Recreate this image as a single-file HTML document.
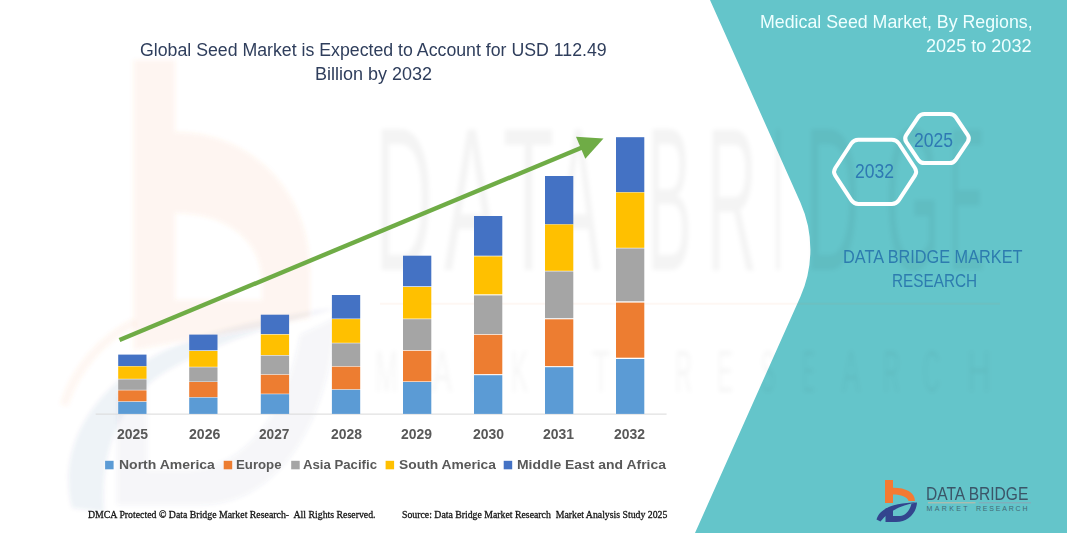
<!DOCTYPE html>
<html><head><meta charset="utf-8">
<style>
html,body{margin:0;padding:0;}
body{width:1067px;height:533px;overflow:hidden;background:#fff;position:relative;font-family:"Liberation Sans",sans-serif;}
.t{position:absolute;white-space:pre;line-height:1;transform-origin:0 0;}
svg{position:absolute;left:0;top:0;}
</style></head><body>
<svg width="1067" height="533" viewBox="0 0 1067 533">
  <defs><filter id="blur" x="-10%" y="-10%" width="120%" height="120%"><feGaussianBlur stdDeviation="2"/></filter></defs>
  <!-- big b watermark -->
  <g filter="url(#blur)">
  <path fill-rule="evenodd" fill="#F47A32" fill-opacity="0.075" d="M133.5,60 L175,60 L175,132 C250,132 310,190 310,272 L310,318 L133.5,350 Z M175,213 C228,213 262,242 262,282 L262,300 L175,300 Z"/>
  <path fill="none" stroke="#F47A32" stroke-opacity="0.07" stroke-width="8" d="M64,405 C75,370 100,340 135,322"/>
  <path fill="#33458E" fill-opacity="0.065" d="M72,508 C56,445 95,375 190,340 C240,322 300,312 338,308 C290,320 215,342 165,372 C120,400 100,450 104,512 Z"/>
  <path fill="#33458E" fill-opacity="0.05" d="M117,395 L147,380 L147,470 L190,470 C240,468 285,420 300,335 L335,318 C330,420 280,505 200,505 L117,505 Z"/>
  </g>
  <path d="M710,0 L800.4,202.6 A116,116 0 0 1 800.4,296.8 L695,533 L1067,533 L1067,0 Z" fill="#64C5CA"/>
  <g font-family="Liberation Sans" fill="#000" fill-opacity="0.045" filter="url(#blur)">
  <text x="375" y="270.4" font-size="205" textLength="58" lengthAdjust="spacingAndGlyphs">D</text>
<text x="444" y="270.4" font-size="205" textLength="55" lengthAdjust="spacingAndGlyphs">A</text>
<text x="503" y="270.4" font-size="205" textLength="51" lengthAdjust="spacingAndGlyphs">T</text>
<text x="556" y="270.4" font-size="205" textLength="44" lengthAdjust="spacingAndGlyphs">A</text>
<text x="647" y="270.4" font-size="205" textLength="45" lengthAdjust="spacingAndGlyphs">B</text>
<text x="707" y="270.4" font-size="205" textLength="50" lengthAdjust="spacingAndGlyphs">R</text>
<text x="772" y="270.4" font-size="205" textLength="12" lengthAdjust="spacingAndGlyphs">I</text>
<text x="805" y="270.4" font-size="205" textLength="55" lengthAdjust="spacingAndGlyphs">D</text>
<text x="885" y="270.4" font-size="205" textLength="55" lengthAdjust="spacingAndGlyphs">G</text>
<text x="948" y="270.4" font-size="205" textLength="37" lengthAdjust="spacingAndGlyphs">E</text>
  </g>
  <g font-family="Liberation Sans" fill="#000" fill-opacity="0.035" filter="url(#blur)">
  <text x="375" y="392.4" font-size="60" textLength="23" lengthAdjust="spacingAndGlyphs">M</text>
<text x="432" y="392.4" font-size="60" textLength="20" lengthAdjust="spacingAndGlyphs">A</text>
<text x="471" y="392.4" font-size="60" textLength="17" lengthAdjust="spacingAndGlyphs">R</text>
<text x="511" y="392.4" font-size="60" textLength="17" lengthAdjust="spacingAndGlyphs">K</text>
<text x="552" y="392.4" font-size="60" textLength="14" lengthAdjust="spacingAndGlyphs">E</text>
<text x="592" y="392.4" font-size="60" textLength="18" lengthAdjust="spacingAndGlyphs">T</text>
<text x="675" y="392.4" font-size="60" textLength="17" lengthAdjust="spacingAndGlyphs">R</text>
<text x="717" y="392.4" font-size="60" textLength="16" lengthAdjust="spacingAndGlyphs">E</text>
<text x="761" y="392.4" font-size="60" textLength="14" lengthAdjust="spacingAndGlyphs">S</text>
<text x="802" y="392.4" font-size="60" textLength="13" lengthAdjust="spacingAndGlyphs">E</text>
<text x="842" y="392.4" font-size="60" textLength="18" lengthAdjust="spacingAndGlyphs">A</text>
<text x="883" y="392.4" font-size="60" textLength="17" lengthAdjust="spacingAndGlyphs">R</text>
<text x="923" y="392.4" font-size="60" textLength="17" lengthAdjust="spacingAndGlyphs">C</text>
<text x="967" y="392.4" font-size="60" textLength="24" lengthAdjust="spacingAndGlyphs">H</text>
  </g>
  <line x1="380" y1="303.7" x2="1000" y2="303.7" stroke="#F47A32" stroke-opacity="0.06" stroke-width="2"/>
  <line x1="95.7" y1="414.1" x2="666.6" y2="414.1" stroke="#d9d9d9" stroke-width="1"/>
  <rect x="118.2" y="354.6" width="28.3" height="11.5" fill="#4472C4"/>
<rect x="118.2" y="366.4" width="28.3" height="12.4" fill="#FFC000"/>
<rect x="118.2" y="379.4" width="28.3" height="10.4" fill="#A5A5A5"/>
<rect x="118.2" y="390.4" width="28.3" height="10.9" fill="#ED7D31"/>
<rect x="118.2" y="401.9" width="28.3" height="12.0" fill="#5B9BD5"/>
<rect x="189.2" y="334.6" width="28.3" height="15.7" fill="#4472C4"/>
<rect x="189.2" y="351.0" width="28.3" height="15.8" fill="#FFC000"/>
<rect x="189.2" y="367.3" width="28.3" height="14.3" fill="#A5A5A5"/>
<rect x="189.2" y="382.0" width="28.3" height="15.2" fill="#ED7D31"/>
<rect x="189.2" y="397.6" width="28.3" height="16.3" fill="#5B9BD5"/>
<rect x="260.8" y="314.7" width="28.3" height="19.4" fill="#4472C4"/>
<rect x="260.8" y="334.6" width="28.3" height="20.5" fill="#FFC000"/>
<rect x="260.8" y="355.6" width="28.3" height="18.7" fill="#A5A5A5"/>
<rect x="260.8" y="374.8" width="28.3" height="18.9" fill="#ED7D31"/>
<rect x="260.8" y="394.2" width="28.3" height="19.7" fill="#5B9BD5"/>
<rect x="331.9" y="295.0" width="28.3" height="23.6" fill="#4472C4"/>
<rect x="331.9" y="319.1" width="28.3" height="23.7" fill="#FFC000"/>
<rect x="331.9" y="343.3" width="28.3" height="22.9" fill="#A5A5A5"/>
<rect x="331.9" y="366.7" width="28.3" height="22.6" fill="#ED7D31"/>
<rect x="331.9" y="389.8" width="28.3" height="24.1" fill="#5B9BD5"/>
<rect x="403.0" y="255.7" width="28.3" height="30.6" fill="#4472C4"/>
<rect x="403.0" y="287.0" width="28.3" height="31.6" fill="#FFC000"/>
<rect x="403.0" y="319.2" width="28.3" height="30.9" fill="#A5A5A5"/>
<rect x="403.0" y="350.8" width="28.3" height="30.6" fill="#ED7D31"/>
<rect x="403.0" y="382.0" width="28.3" height="31.9" fill="#5B9BD5"/>
<rect x="474.0" y="216.0" width="28.3" height="39.7" fill="#4472C4"/>
<rect x="474.0" y="256.4" width="28.3" height="37.9" fill="#FFC000"/>
<rect x="474.0" y="295.4" width="28.3" height="38.7" fill="#A5A5A5"/>
<rect x="474.0" y="334.8" width="28.3" height="39.3" fill="#ED7D31"/>
<rect x="474.0" y="375.2" width="28.3" height="38.7" fill="#5B9BD5"/>
<rect x="545.0" y="176.0" width="28.3" height="48.3" fill="#4472C4"/>
<rect x="545.0" y="224.5" width="28.3" height="46.3" fill="#FFC000"/>
<rect x="545.0" y="271.4" width="28.3" height="46.8" fill="#A5A5A5"/>
<rect x="545.0" y="319.3" width="28.3" height="46.8" fill="#ED7D31"/>
<rect x="545.0" y="367.2" width="28.3" height="46.7" fill="#5B9BD5"/>
<rect x="616.0" y="137.2" width="28.3" height="55.0" fill="#4472C4"/>
<rect x="616.0" y="192.5" width="28.3" height="55.3" fill="#FFC000"/>
<rect x="616.0" y="248.4" width="28.3" height="52.9" fill="#A5A5A5"/>
<rect x="616.0" y="302.6" width="28.3" height="55.1" fill="#ED7D31"/>
<rect x="616.0" y="359.0" width="28.3" height="54.9" fill="#5B9BD5"/>
<rect x="105.1" y="460.8" width="8.5" height="8.5" fill="#5B9BD5"/>
<rect x="223.7" y="460.8" width="8.5" height="8.5" fill="#ED7D31"/>
<rect x="291.2" y="460.8" width="8.5" height="8.5" fill="#A5A5A5"/>
<rect x="385.6" y="460.8" width="8.5" height="8.5" fill="#FFC000"/>
<rect x="503.7" y="460.8" width="8.5" height="8.5" fill="#4472C4"/>
  <line x1="119.5" y1="340" x2="582" y2="147.5" stroke="#6FAC46" stroke-width="4.4"/>
  <polygon points="603.5,138.5 576,136.8 585.3,158.8" fill="#6FAC46"/>
  <path d="M835.3,175.6 Q832.8,171.8 835.3,168.0 L851.3,143.5 Q853.8,139.7 858.3,139.7 L891.9,139.7 Q896.4,139.7 898.9,143.5 L914.9,168.0 Q917.4,171.8 914.9,175.6 L898.9,200.1 Q896.4,203.9 891.9,203.9 L858.3,203.9 Q853.8,203.9 851.3,200.1 Z" fill="none" stroke="#fff" stroke-width="4"/>
  <path d="M906.2,141.8 Q904.0,138.5 906.2,135.2 L918.3,117.2 Q920.5,113.9 924.5,113.9 L949.5,113.9 Q953.5,113.9 955.7,117.2 L967.8,135.2 Q970.0,138.5 967.8,141.8 L955.7,159.8 Q953.5,163.1 949.5,163.1 L924.5,163.1 Q920.5,163.1 918.3,159.8 Z" fill="none" stroke="#fff" stroke-width="4"/>
  <!-- logo -->
  <g>
    <rect x="885" y="480" width="8" height="23" fill="#F47A32"/>
    <path d="M893,487.7 C905,487.5 915,492 915,501 L908.5,501 C907.5,497 901,494.5 893,494.5 Z" fill="#F47A32"/>
    <path d="M876.5,519.5 C880,507 897,503 917,502.3 C900,505.5 889,511 880.5,521.5 Z" fill="#33458E"/>
    <path d="M885.5,508.5 L893,506.5 L893,516 L900,516 C906,515.5 910,510 911.5,503.5 L917,502.5 C916.5,513 908,522 896,522 L885.5,522 Z" fill="#33458E"/>
    <line x1="928" y1="502.8" x2="975.5" y2="502.8" stroke="#c9b9a6" stroke-width="1"/>
    <line x1="978.7" y1="502.8" x2="1031" y2="502.8" stroke="#8aa6b6" stroke-width="1"/>
    <text x="926.5" y="511.3" font-family="Liberation Sans" font-size="7" fill="#426A76" textLength="41" lengthAdjust="spacing">MARKET</text>
    <text x="976" y="511.3" font-family="Liberation Sans" font-size="7" fill="#426A76" textLength="51.5" lengthAdjust="spacing">RESEARCH</text>
  </g>
</svg>

<div class="t" id="title1" style="left:140.06px;top:40.84px;font-family:'Liberation Sans';font-size:18.75px;font-weight:400;color:#2F3E5C;transform:scaleX(0.9453);">Global Seed Market is Expected to Account for USD 112.49</div>
<div class="t" id="title2" style="left:314.64px;top:64.66px;font-family:'Liberation Sans';font-size:18.90px;font-weight:400;color:#2F3E5C;transform:scaleX(0.9530);">Billion by 2032</div>
<div class="t" id="rt1" style="left:759.76px;top:12.56px;font-family:'Liberation Sans';font-size:18.17px;font-weight:400;color:#EFFFFF;transform:scaleX(0.9788);">Medical Seed Market, By Regions,</div>
<div class="t" id="rt2" style="left:926.20px;top:36.78px;font-family:'Liberation Sans';font-size:18.17px;font-weight:400;color:#EFFFFF;transform:scaleX(0.9952);">2025 to 2032</div>
<div class="t" id="hx1" style="left:855.08px;top:162.43px;font-family:'Liberation Sans';font-size:19.62px;font-weight:400;color:#2E79B3;transform:scaleX(0.8948);">2032</div>
<div class="t" id="hx2" style="left:914.02px;top:130.85px;font-family:'Liberation Sans';font-size:19.33px;font-weight:400;color:#2E79B3;transform:scaleX(0.9082);">2025</div>
<div class="t" id="db1" style="left:842.52px;top:248.03px;font-family:'Liberation Sans';font-size:18.60px;font-weight:400;color:#2D7CAF;transform:scaleX(0.8757);">DATA BRIDGE MARKET</div>
<div class="t" id="db2" style="left:891.70px;top:272.07px;font-family:'Liberation Sans';font-size:18.60px;font-weight:400;color:#2D7CAF;transform:scaleX(0.8241);">RESEARCH</div>
<div class="t" id="ft1" style="left:88.06px;top:509.02px;font-family:'Liberation Serif';font-size:10.69px;font-weight:400;color:#141414;transform:scaleX(0.9188);-webkit-text-stroke:0.3px #141414;">DMCA Protected © Data Bridge Market Research-  All Rights Reserved.</div>
<div class="t" id="ft2" style="left:402.38px;top:509.03px;font-family:'Liberation Serif';font-size:10.69px;font-weight:400;color:#141414;transform:scaleX(0.9151);-webkit-text-stroke:0.3px #141414;">Source: Data Bridge Market Research  Market Analysis Study 2025</div>
<div class="t" id="lg1" style="left:925.70px;top:484.65px;font-family:'Liberation Sans';font-size:18.31px;font-weight:400;color:#3B5568;transform:scaleX(0.8507);">DATA BRIDGE</div>
<div class="t" id="yr0" style="left:116.56px;top:426.98px;font-family:'Liberation Sans';font-size:14.24px;font-weight:700;color:#595959;transform:scaleX(0.9806);">2025</div>
<div class="t" id="yr1" style="left:188.62px;top:426.98px;font-family:'Liberation Sans';font-size:14.24px;font-weight:700;color:#595959;transform:scaleX(0.9910);">2026</div>
<div class="t" id="yr2" style="left:259.38px;top:426.98px;font-family:'Liberation Sans';font-size:14.24px;font-weight:700;color:#595959;transform:scaleX(0.9615);">2027</div>
<div class="t" id="yr3" style="left:330.50px;top:426.98px;font-family:'Liberation Sans';font-size:14.24px;font-weight:700;color:#595959;transform:scaleX(0.9783);">2028</div>
<div class="t" id="yr4" style="left:401.00px;top:426.98px;font-family:'Liberation Sans';font-size:14.24px;font-weight:700;color:#595959;transform:scaleX(0.9783);">2029</div>
<div class="t" id="yr5" style="left:473.12px;top:426.98px;font-family:'Liberation Sans';font-size:14.24px;font-weight:700;color:#595959;transform:scaleX(0.9806);">2030</div>
<div class="t" id="yr6" style="left:543.44px;top:426.98px;font-family:'Liberation Sans';font-size:14.24px;font-weight:700;color:#595959;transform:scaleX(0.9806);">2031</div>
<div class="t" id="yr7" style="left:614.38px;top:426.98px;font-family:'Liberation Sans';font-size:14.24px;font-weight:700;color:#595959;transform:scaleX(0.9783);">2032</div>
<div class="t" id="lt0" style="left:119.06px;top:457.75px;font-family:'Liberation Sans';font-size:13.52px;font-weight:700;color:#595959;transform:scaleX(1.0350);">North America</div>
<div class="t" id="lt1" style="left:236.12px;top:457.54px;font-family:'Liberation Sans';font-size:13.52px;font-weight:700;color:#595959;transform:scaleX(0.9776);">Europe</div>
<div class="t" id="lt2" style="left:303.00px;top:457.75px;font-family:'Liberation Sans';font-size:13.52px;font-weight:700;color:#595959;transform:scaleX(0.9751);">Asia Pacific</div>
<div class="t" id="lt3" style="left:398.62px;top:457.75px;font-family:'Liberation Sans';font-size:13.52px;font-weight:700;color:#595959;transform:scaleX(1.0222);">South America</div>
<div class="t" id="lt4" style="left:516.56px;top:457.75px;font-family:'Liberation Sans';font-size:13.52px;font-weight:700;color:#595959;transform:scaleX(1.0314);">Middle East and Africa</div>

</body></html>
